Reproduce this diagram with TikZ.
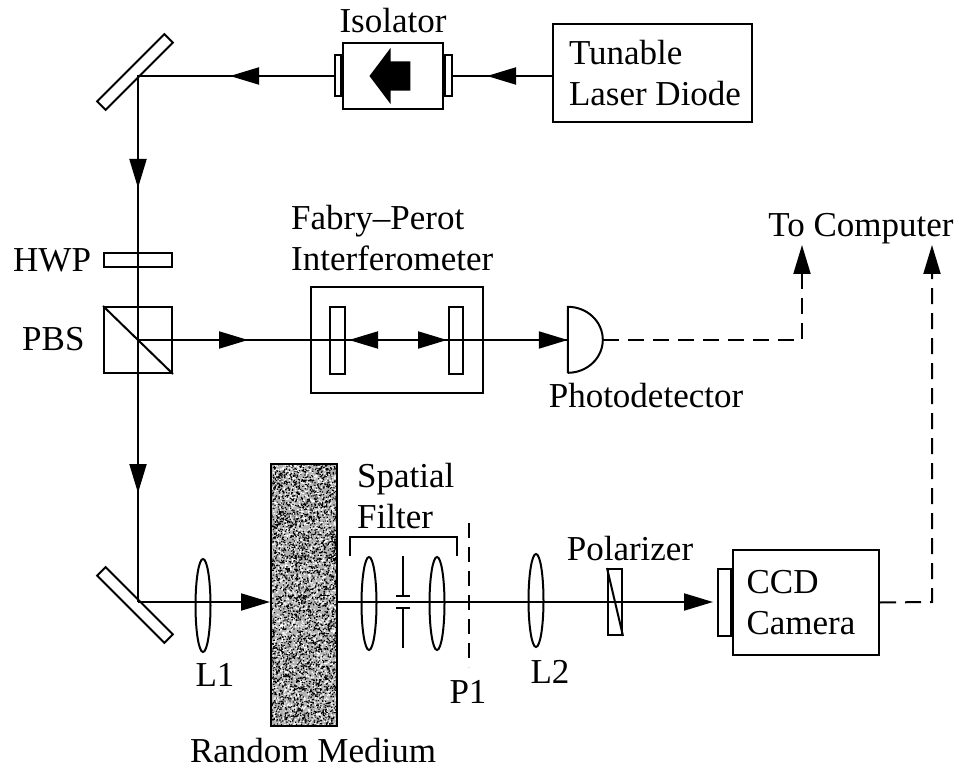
\documentclass[tikz,border=0pt]{standalone}
\usepackage{fontspec}
\setmainfont{Liberation Serif}
\usetikzlibrary{arrows.meta,positioning,shapes.geometric,shapes.arrows}
\tikzset{
  part/.style={draw, line width=2pt, minimum size=0pt, inner sep=0pt},
  box/.style={part, align=left, font=\fontsize{35}{41}\selectfont},
  lens/.style={part, ellipse, minimum width=15pt},
  mirror/.style={part, fill=white, minimum width=95pt, minimum height=12pt},
  txt/.style={inner sep=0pt, align=left, font=\fontsize{35}{41}\selectfont},
  beam/.style={line width=2pt},
  arrow/.style={-{Triangle[length=29pt,width=17pt]}, line width=2pt},
  sigline/.style={line width=2pt, dash pattern=on 16pt off 9pt}
}
\begin{document}
\begin{tikzpicture}[x=1pt,y=-1pt]
  \useasboundingbox (0,0) rectangle (959,770);
  % source and isolator
  \node[box,minimum width=199pt,minimum height=98pt] (laser) at (652.5,73) {\hspace*{5pt}Tunable\\\hspace*{5pt}Laser Diode};
  \node[part,minimum width=100pt,minimum height=66pt] (isolator) at (393,76) {};
  \node[part,anchor=east,minimum width=6pt,minimum height=41pt] (isoleft) at (isolator.west) {};
  \node[part,anchor=west,minimum width=7pt,minimum height=41pt] (isoright) at (isolator.east) {};
  \node[single arrow,fill=black,shape border rotate=180,inner sep=0pt,text height=14.5pt,text depth=14.5pt,minimum height=41pt,
    single arrow tip angle=106,single arrow head extend=13.5pt,single arrow head indent=0pt] (isoarrow) at (395.5,76) {};
  \node[mirror,rotate=45] (mirrortop) at (135,72) {};
  \coordinate (cornertop) at (138,76);
  \coordinate (tiplaser) at (487,76);
  \coordinate (tipiso) at (230,76);
  \coordinate (tipdown) at (138,188);
  % waveplate, cube, interferometer
  \node[part,minimum width=68pt,minimum height=14pt] (hwp) at (138,260) {};
  \node[part,minimum width=68pt,minimum height=66pt] (pbs) at (138,340) {};
  \node[part,minimum width=172pt,minimum height=106pt] (fabry) at (397,340) {};
  \node[part,minimum width=15pt,minimum height=67pt] (fpleft) at (337.5,340) {};
  \node[part,minimum width=14pt,minimum height=67pt] (fpright) at (456,340) {};
  \node[minimum width=35pt,minimum height=66pt,inner sep=0pt] (detector) at (585.5,340) {};
  \coordinate (beamsplit) at (138,340);
  \coordinate (tippbs) at (248,340);
  \coordinate (tipback) at (349,340);
  \coordinate (tipfwd) at (447,340);
  \coordinate (tipdet) at (detector.west);
  \coordinate (tipdownb) at (138,493);
  \coordinate (fpmid) at (397,340);
  % lower arm
  \node[mirror,rotate=-45] (mirrorlow) at (135,605) {};
  \coordinate (cornerlow) at (138,602);
  \node[lens,minimum height=93pt] (lensone) at (203,605.5) {};
  \node[part,fill=gray!60,minimum width=66pt,minimum height=262pt,path picture={
    \pgfmathsetseed{7}
    \fill[white] \foreach \i in {1,...,3500} {({-33+66*rnd},{-131+262*rnd}) rectangle ++(1.2,1.2)};
    \fill[black] \foreach \i in {1,...,3500} {({-33+66*rnd},{-131+262*rnd}) rectangle ++(1.2,1.2)};
  }] (medium) at (304,595) {};
  \node[lens,minimum height=93pt] (lensa) at (369,603.5) {};
  \node[lens,minimum height=93pt] (lensb) at (437,603.5) {};
  \node[lens,minimum height=93pt] (lenstwo) at (536,600.5) {};
  \node[part,minimum width=14pt,minimum height=66pt] (polar) at (615,602) {};
  \node[box,minimum width=146pt,minimum height=105pt] (camera) at (806,602.5) {CCD\\Camera\hspace*{10pt}};
  \node[part,anchor=east,minimum width=13pt,minimum height=67pt] (ccdface) at (camera.west) {};
  \coordinate (tiplow) at (medium.west |- 0,602);
  \coordinate (tipccd) at (713,602);
  \coordinate (mediumout) at (medium.east |- 0,602);
  % pinhole and bracket
  \coordinate (pintop) at (403,556);
  \coordinate (pinup) at (403,596);
  \coordinate (pindown) at (403,608);
  \coordinate (pinlow) at (403,648);
  \coordinate (brackl) at (350,556);
  \coordinate (brackr) at (457,556);
  \coordinate (p1top) at (469,523);
  \coordinate (p1low) at (469,667);
  % signal lines
  \coordinate (sigone) at (802,340);
  \coordinate (tipsigone) at (802,245);
  \coordinate (sigtwo) at (932,602);
  \coordinate (tipsigtwo) at (932,245);
  % beams
  \draw[beam] (laser.west |- tiplaser) -- (isoright.east);
  \draw[arrow] (laser.west |- tiplaser) -- (tiplaser);
  \draw[beam] (isoleft.west) -- (cornertop) -- (tipdownb) -- (cornerlow);
  \draw[arrow] (isoleft.west) -- (tipiso);
  \draw[arrow] (cornertop) -- (tipdown);
  \draw[arrow] (138,460) -- (tipdownb);
  \draw[beam] (pbs.north west) -- (pbs.south east);
  \draw[beam] (beamsplit) -- (tipdet);
  \draw[arrow] (beamsplit) -- (tippbs);
  \draw[arrow] (fpmid) -- (tipback);
  \draw[arrow] (fpmid) -- (tipfwd);
  \draw[arrow] (fpright.east) -- (tipdet);
  \draw[beam] (detector.south west) -- (detector.north west) arc[start angle=90,end angle=-90,x radius=35pt,y radius=33pt];
  \draw[arrow] (cornerlow) -- (tiplow);
  \draw[beam] (mediumout) -- (polar.east);
  \draw[arrow] (polar.east) -- (tipccd);
  \draw[beam] (polar.north west) -- (polar.south east);
  % pinhole, bracket, image plane
  \draw[beam] (pintop) -- (pinup);
  \draw[beam] ([xshift=-7pt]pinup) -- ([xshift=7pt]pinup);
  \draw[beam] ([xshift=-7pt]pindown) -- ([xshift=7pt]pindown);
  \draw[beam] (pindown) -- (pinlow);
  \draw[beam] (brackl) -- (350,537) -- (457,537) -- (brackr);
  \draw[beam,dash pattern=on 15pt off 9pt] (p1top) -- (p1low);
  % electrical signals
  \draw[sigline] (detector.east) -- (sigone) -- (802,272);
  \draw[arrow] (802,273) -- (tipsigone);
  \draw[sigline] (camera.east) -- (sigtwo) -- (932,272);
  \draw[arrow] (932,273) -- (tipsigtwo);
  % labels
  \node[txt,anchor=base] (isolabel) at (393,33) {Isolator};
  \node[txt,anchor=west] (fabrylabel) at (291,238) {Fabry--Perot\\Interferometer};
  \node[txt,anchor=base west] (hwplabel) at (13,272) {HWP};
  \node[txt,anchor=base west] (pbslabel) at (22,350) {PBS};
  \node[txt,anchor=base] (tocomputer) at (861,237) {To Computer};
  \node[txt,anchor=base] (detlabel) at (646,407) {Photodetector};
  \node[txt,anchor=west] (spatial) at (357,496) {Spatial\\Filter};
  \node[txt,anchor=base] (polarlabel) at (630,560) {Polarizer};
  \node[txt,anchor=base] (lonelabel) at (215,686) {L1};
  \node[txt,anchor=base] (p1label) at (468,703) {P1};
  \node[txt,anchor=base] (ltwolabel) at (550,683) {L2};
  \node[txt,anchor=base] (mediumlabel) at (313,762) {Random Medium};
\end{tikzpicture}
\end{document}
